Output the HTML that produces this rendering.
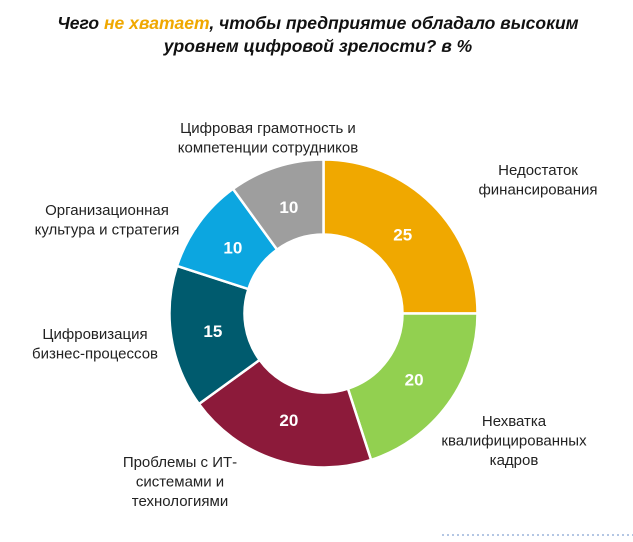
<!DOCTYPE html>
<html><head><meta charset="utf-8"><style>
body{margin:0;background:#fff;width:633px;height:537px;overflow:hidden}
svg text{font-family:"Liberation Sans","Noto Sans CJK SC",sans-serif}
</style></head><body>
<svg id="chart" width="633" height="537">
<text x="318" y="29" text-anchor="middle" font-size="17.5" font-weight="bold" font-style="italic" fill="#111">Чего <tspan fill="#F0A800">не хватает</tspan>, чтобы предприятие обладало высоким</text>
<text x="318" y="52" text-anchor="middle" font-size="17.5" font-weight="bold" font-style="italic" fill="#111">уровнем цифровой зрелости? в %</text>
<g id="slices"></g>
<g id="labels" font-size="15" fill="#222"></g>
<line x1="442" y1="535" x2="633" y2="535" stroke="#6a8fc8" stroke-dasharray="2,3"/>
</svg>
<script>
const categories=[["Недостаток","финансирования"],["Нехватка","квалифицированных","кадров"],["Проблемы с ИТ-","системами и","технологиями"],["Цифровизация","бизнес-процессов"],["Организационная","культура и стратегия"],["Цифровая грамотность и","компетенции сотрудников"]];
const values=[25,20,20,15,10,10];
const colors=["#F0A800","#92D050","#8C1A3A","#005B6E","#0CA6E0","#9E9E9E"];
const labelPos=[[538,170],[514,421],[180,462],[95,334],[107,210],[268,128]];
const cx=323.5,cy=313.5,R=154,r=79;
const ns="http://www.w3.org/2000/svg";
const total=values.reduce((a,b)=>a+b,0);
const gs=document.getElementById('slices'),gl=document.getElementById('labels');
function pt(a,rad){return [cx+rad*Math.sin(a),cy-rad*Math.cos(a)];}
let acc=0;
values.forEach((v,i)=>{
  const a0=acc/total*2*Math.PI;acc+=v;const a1=acc/total*2*Math.PI;
  const large=(a1-a0)>Math.PI?1:0;
  const p0=pt(a0,R),p1=pt(a1,R),q1=pt(a1,r),q0=pt(a0,r);
  const p=document.createElementNS(ns,'path');
  p.setAttribute('d',`M${p0}A${R},${R} 0 ${large} 1 ${p1}L${q1}A${r},${r} 0 ${large} 0 ${q0}Z`);
  p.setAttribute('fill',colors[i]);p.setAttribute('stroke','#fff');p.setAttribute('stroke-width','2.5');
  
  
  gs.appendChild(p);
  const m=pt((a0+a1)/2,112);
  const t=document.createElementNS(ns,'text');
  t.setAttribute('x',m[0]);t.setAttribute('y',m[1]+6);t.setAttribute('text-anchor','middle');
  t.setAttribute('font-size','17');t.setAttribute('font-weight','bold');t.setAttribute('fill','#fff');
  t.textContent=v;
  
  
  gs.appendChild(t);
  const lt=document.createElementNS(ns,'text');
  lt.setAttribute('text-anchor','middle');
  
  
  categories[i].forEach((s,k)=>{const ts=document.createElementNS(ns,'tspan');ts.setAttribute('x',labelPos[i][0]);ts.setAttribute('y',labelPos[i][1]+5+k*19.5);ts.textContent=s;lt.appendChild(ts);});
  gl.appendChild(lt);
});
</script>
</body></html>
